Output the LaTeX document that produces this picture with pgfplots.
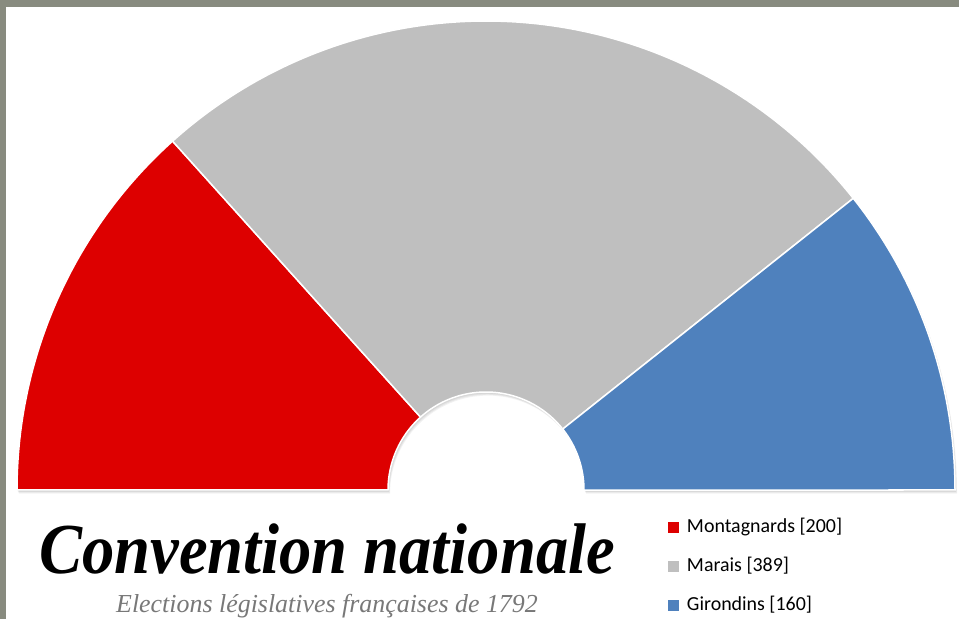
\documentclass[border=0pt]{standalone}
\usepackage{pgfplots}
\pgfplotsset{compat=1.18}
\usepackage{fontspec}
\setmainfont{Liberation Serif}
\newfontfamily\calibri{Carlito}
\definecolor{cRed}{RGB}{221,0,0}
\definecolor{cGrey}{RGB}{191,191,191}
\definecolor{cBlue}{RGB}{79,129,189}
\definecolor{frameC}{RGB}{136,139,127}
\definecolor{subC}{RGB}{120,120,120}
\begin{document}
\begin{tikzpicture}
% seats
\def\vMont{200}
\def\vMar{389}
\def\vGir{160}
\pgfmathsetmacro\tot{\vMont+\vMar+\vGir}
\pgfmathsetmacro\aA{180-180*(\vMont/\tot)}
\pgfmathsetmacro\aB{\aA-180*(\vMar/\tot)}
\def\cx{486}
\def\cy{129}
\def\Rout{469}
\def\Rin{98}
\def\Routd{469bp}
\def\Rind{98bp}
\begin{axis}[x=1bp, y=1bp, xmin=0, xmax=959, ymin=0, ymax=619,
  hide axis, clip=false, anchor=south west, at={(0,0)},
  legend image code/.code={\fill[#1,draw=none] (0bp,-5.5bp) rectangle (11bp,5.5bp); \path (18bp,0bp);},
  legend cell align=left,
  legend style={at={(0.6966,0.162)}, anchor=north west, draw=none, fill=none,
    inner sep=0pt, row sep=21bp,
    font=\calibri\fontsize{20}{24}\selectfont,
    nodes={inner sep=0pt, text height=14bp, text depth=4bp}},
  ]
\fill[frameC] (0,0) rectangle (959,619);
\fill[white] (6,0) rectangle (959,612);
% soft shadow
\pgfplotsinvokeforeach{1,2,3,4}{
  \fill[black, opacity=0.05] ({\cx+\Rout+0.5*#1},{\cy-0.9*#1}) arc[start angle=0, end angle=180, radius=\Routd]
    -- ({\cx-\Rin+0.5*#1},{\cy-0.9*#1}) arc[start angle=180, end angle=0, radius=\Rind] -- cycle;
}
\addplot[fill=cRed, draw=white, line width=1.5bp, domain=\aA:180, samples=120, variable=\t]
  ({\cx+\Rout*cos(t)},{\cy+\Rout*sin(t)})
  -- ({\cx-\Rin},{\cy}) arc[start angle=180, end angle=\aA, radius=\Rind] -- cycle;
\addlegendentry{Montagnards [200]}
\addplot[fill=cGrey, draw=white, line width=1.5bp, domain=\aB:\aA, samples=160, variable=\t]
  ({\cx+\Rout*cos(t)},{\cy+\Rout*sin(t)})
  -- ({\cx+\Rin*cos(\aA)},{\cy+\Rin*sin(\aA)}) arc[start angle=\aA, end angle=\aB, radius=\Rind] -- cycle;
\addlegendentry{Marais [389]}
\addplot[fill=cBlue, draw=white, line width=1.5bp, domain=0:\aB, samples=100, variable=\t]
  ({\cx+\Rout*cos(t)},{\cy+\Rout*sin(t)})
  -- ({\cx+\Rin*cos(\aB)},{\cy+\Rin*sin(\aB)}) arc[start angle=\aB, end angle=0, radius=\Rind] -- cycle;
\addlegendentry{Girondins [160]}
\node[font=\fontsize{72}{80}\selectfont\bfseries\itshape, anchor=base, xscale=0.9] at (327,46) {Convention nationale};
\node[font=\fontsize{26}{30}\selectfont\itshape, text=subC, anchor=base] at (327,7) {Elections législatives françaises de 1792};
\end{axis}
\end{tikzpicture}
\end{document}
